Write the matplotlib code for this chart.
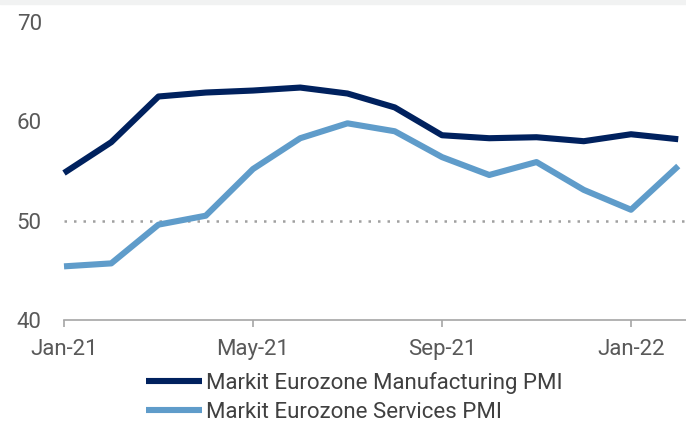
import matplotlib
matplotlib.use("Agg")
import matplotlib.pyplot as plt
from matplotlib.patches import Rectangle

months = ["Jan-21", "Feb-21", "Mar-21", "Apr-21", "May-21", "Jun-21", "Jul-21",
          "Aug-21", "Sep-21", "Oct-21", "Nov-21", "Dec-21", "Jan-22", "Feb-22"]
manufacturing = [54.8, 57.9, 62.5, 62.9, 63.1, 63.4, 62.8, 61.4, 58.6, 58.3, 58.4, 58.0, 58.7, 58.2]
services = [45.4, 45.7, 49.6, 50.5, 55.2, 58.3, 59.8, 59.0, 56.4, 54.6, 55.9, 53.1, 51.1, 55.5]
tick_labels = ["Jan-21", "May-21", "Sep-21", "Jan-22"]
y_ticks = [40, 50, 60, 70]
threshold = 50

plt.rcParams['font.family'] = ['Roboto', 'DejaVu Sans']

W, H = 686, 424
fig = plt.figure(figsize=(W / 100, H / 100), dpi=100)
fig.patches.append(Rectangle((0, 1 - 4 / H), 1, 4 / H, transform=fig.transFigure,
                             color="#F1F2F2", zorder=0))

left_px, right_px = 64, 686
top_px, bottom_px = 22, 320
ax = fig.add_axes([left_px / W, 1 - bottom_px / H, (right_px - left_px) / W, (bottom_px - top_px) / H])

x = list(range(len(months)))
navy = "#00215E"
light = "#5F9CCA"
ax.plot(x, manufacturing, color=navy, lw=4.4, solid_capstyle="butt", label="Markit Eurozone Manufacturing PMI", clip_on=False)
ax.plot(x, services, color=light, lw=4.4, solid_capstyle="butt", label="Markit Eurozone Services PMI", clip_on=False)
ax.axhline(threshold, color="#A0A0A0", lw=1.8, linestyle=(0, (1, 2.8)), zorder=0)

px_per_month = 47.25
ax.set_xlim(0, (right_px - left_px) / px_per_month)
ax.set_ylim(40, 70)

ax.set_xticks([months.index(t) for t in tick_labels])
ax.set_xticklabels(tick_labels)
ax.set_yticks(y_ticks)

for s in ["top", "right", "left"]:
    ax.spines[s].set_visible(False)
ax.spines["bottom"].set_color("#A6A6A6")
ax.spines["bottom"].set_linewidth(1.2)

ax.tick_params(axis="x", colors="#A6A6A6", length=5, width=1.2, direction="out",
               labelcolor="#595959", labelsize=16, pad=9)
ax.tick_params(axis="y", length=0, labelcolor="#595959", labelsize=16, pad=16)

leg = fig.legend(loc="upper left", bbox_to_anchor=(146 / W, 1 - 372 / H), frameon=False,
                 fontsize=16, handlelength=2.5, handletextpad=0.2, labelspacing=0.35,
                 borderpad=0, borderaxespad=0)
for t in leg.get_texts():
    t.set_color("#404040")
for l in leg.get_lines():
    l.set_linewidth(4.4)

fig.savefig("out.png", dpi=100)
